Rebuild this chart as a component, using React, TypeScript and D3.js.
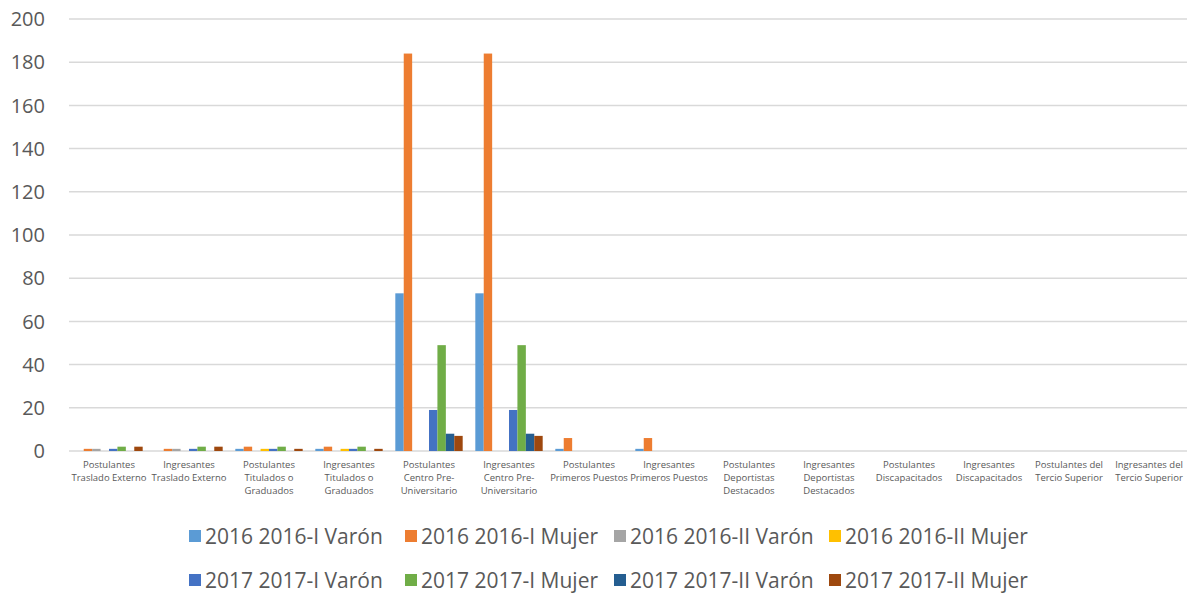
import React, { useEffect, useRef } from "react";
import * as d3 from "d3";

const categories: string[] = [
  "Postulantes\nTraslado Externo",
  "Ingresantes\nTraslado Externo",
  "Postulantes\nTitulados o\nGraduados",
  "Ingresantes\nTitulados o\nGraduados",
  "Postulantes\nCentro Pre-\nUniversitario",
  "Ingresantes\nCentro Pre-\nUniversitario",
  "Postulantes\nPrimeros Puestos",
  "Ingresantes\nPrimeros Puestos",
  "Postulantes\nDeportistas\nDestacados",
  "Ingresantes\nDeportistas\nDestacados",
  "Postulantes\nDiscapacitados",
  "Ingresantes\nDiscapacitados",
  "Postulantes del\nTercio Superior",
  "Ingresantes del\nTercio Superior",
];

const seriesNames: string[] = [
  "2016 2016-I Varón",
  "2016 2016-I Mujer",
  "2016 2016-II Varón",
  "2016 2016-II Mujer",
  "2017 2017-I Varón",
  "2017 2017-I Mujer",
  "2017 2017-II Varón",
  "2017 2017-II Mujer",
];

const v2016IVaron = [0, 0, 1, 1, 73, 73, 1, 1, 0, 0, 0, 0, 0, 0];
const v2016IMujer = [1, 1, 2, 2, 184, 184, 6, 6, 0, 0, 0, 0, 0, 0];
const v2016IIVaron = [1, 1, 0, 0, 0, 0, 0, 0, 0, 0, 0, 0, 0, 0];
const v2016IIMujer = [0, 0, 1, 1, 0, 0, 0, 0, 0, 0, 0, 0, 0, 0];
const v2017IVaron = [1, 1, 1, 1, 19, 19, 0, 0, 0, 0, 0, 0, 0, 0];
const v2017IMujer = [2, 2, 2, 2, 49, 49, 0, 0, 0, 0, 0, 0, 0, 0];
const v2017IIVaron = [0, 0, 0, 0, 8, 8, 0, 0, 0, 0, 0, 0, 0, 0];
const v2017IIMujer = [2, 2, 1, 1, 7, 7, 0, 0, 0, 0, 0, 0, 0, 0];

const seriesValues: number[][] = [
  v2016IVaron,
  v2016IMujer,
  v2016IIVaron,
  v2016IIMujer,
  v2017IVaron,
  v2017IMujer,
  v2017IIVaron,
  v2017IIMujer,
];

const yTicks = [0, 20, 40, 60, 80, 100, 120, 140, 160, 180, 200];

const colors = [
  "#5B9BD5",
  "#ED7D31",
  "#A5A5A5",
  "#FFC000",
  "#4472C4",
  "#70AD47",
  "#255E91",
  "#9E480E",
];

const W = 1187;
const H = 594;
const FONT = "'Open Sans', sans-serif";
const TXT = "#595959";

export default function App() {
  const ref = useRef<SVGSVGElement>(null);

  useEffect(() => {
    const svg = d3.select(ref.current);
    svg.selectAll("*").remove();

    const left = 69;
    const right = 1189;
    const top = 19;
    const bottom = 451;

    const x = d3
      .scaleBand<number>()
      .domain(d3.range(categories.length))
      .range([left, right])
      .paddingInner(0)
      .paddingOuter(0);
    const bw = x.bandwidth();
    const barW = bw / 9.5;
    const y = d3.scaleLinear().domain([0, 200]).range([bottom, top]);

    // gridlines
    svg
      .append("g")
      .selectAll("line")
      .data(yTicks)
      .join("line")
      .attr("x1", left)
      .attr("x2", W)
      .attr("y1", (d) => y(d))
      .attr("y2", (d) => y(d))
      .attr("stroke", "#D9D9D9")
      .attr("stroke-width", 1.5);

    // y labels
    svg
      .append("g")
      .selectAll("text")
      .data(yTicks)
      .join("text")
      .attr("x", 45)
      .attr("y", (d) => y(d))
      .attr("dy", "0.36em")
      .attr("text-anchor", "end")
      .attr("font-family", FONT)
      .attr("font-size", 20)
      .attr("fill", TXT)
      .text((d) => String(d));

    // bars
    seriesValues.forEach((vals, si) => {
      svg
        .append("g")
        .selectAll("rect")
        .data(vals.map((v, ci) => ({ v, ci })))
        .join("rect")
        .filter((d) => d.v > 0)
        .attr("x", (d) => (x(d.ci) as number) + barW * 0.75 + si * barW)
        .attr("width", barW)
        .attr("y", (d) => y(d.v))
        .attr("height", (d) => y(0) - y(d.v))
        .attr("fill", colors[si]);
    });

    // x labels
    const xl = svg.append("g");
    categories.forEach((c, ci) => {
      const lines = c.split("\n");
      const t = xl
        .append("text")
        .attr("text-anchor", "middle")
        .attr("font-family", FONT)
        .attr("font-size", 9.5)
        .attr("fill", TXT);
      lines.forEach((ln, li) => {
        t.append("tspan")
          .attr("x", (x(ci) as number) + bw / 2)
          .attr("y", 468 + li * 13)
          .text(ln);
      });
    });

    // legend
    const rows = [seriesNames.slice(0, 4), seriesNames.slice(4, 8)];
    const rowY = [536, 580];
    const colX = [189, 405, 614, 829];
    rows.forEach((row, ri) => {
      row.forEach((name, k) => {
        const si = ri * 4 + k;
        const g = svg.append("g");
        g.append("rect")
          .attr("x", colX[k])
          .attr("y", rowY[ri] - 6)
          .attr("width", 12)
          .attr("height", 12)
          .attr("fill", colors[si]);
        g.append("text")
          .attr("x", colX[k] + 16)
          .attr("y", rowY[ri])
          .attr("dy", "0.36em")
          .attr("font-family", FONT)
          .attr("font-size", 21)
          .attr("fill", TXT)
          .text(name);
      });
    });
  }, []);

  return (
    <svg
      ref={ref}
      width={W}
      height={H}
      style={{ position: "absolute", left: 0, top: 0, background: "#fff" }}
    />
  );
}
